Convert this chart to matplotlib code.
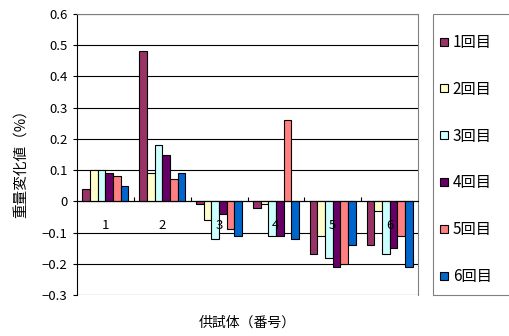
import matplotlib
matplotlib.use("Agg")
import matplotlib.pyplot as plt
from matplotlib.patches import Rectangle
from matplotlib.lines import Line2D
import numpy as np

plt.rcParams['font.family'] = ['Noto Sans CJK JP', 'DejaVu Sans']
plt.rcParams['axes.unicode_minus'] = True

categories = ["1", "2", "3", "4", "5", "6"]
series_names = ["1回目", "2回目", "3回目", "4回目", "5回目", "6回目"]
run1 = [0.04, 0.48, -0.01, -0.02, -0.17, -0.14]
run2 = [0.10, 0.09, -0.06, -0.01, -0.11, -0.03]
run3 = [0.10, 0.18, -0.12, -0.11, -0.18, -0.17]
run4 = [0.09, 0.15, -0.04, -0.11, -0.21, -0.15]
run5 = [0.08, 0.07, -0.09, 0.26, -0.20, -0.11]
run6 = [0.05, 0.09, -0.11, -0.12, -0.14, -0.21]
series = [run1, run2, run3, run4, run5, run6]
colors = ["#993366", "#FFFFCC", "#CCFFFF", "#660066", "#FF8080", "#0066CC"]
yticks = [-0.3, -0.2, -0.1, 0, 0.1, 0.2, 0.3, 0.4, 0.5, 0.6]
ytick_labels = ["-0.3", "-0.2", "-0.1", "0", "0.1", "0.2", "0.3", "0.4", "0.5", "0.6"]

W, H = 509, 336
fig = plt.figure(figsize=(W / 100, H / 100), dpi=100)
ax = fig.add_axes([77 / W, 1 - 295 / H, (418 - 77) / W, (295 - 14) / H])

x = np.arange(len(categories))
w = 1 / 7.4
for j, (vals, c, name) in enumerate(zip(series, colors, series_names)):
    ax.bar(x + (j - 2.5) * w, vals, width=w, color=c, edgecolor="black",
           linewidth=0.8, label=name, zorder=3)

ax.set_xlim(-0.5, len(categories) - 0.5)
ax.set_ylim(-0.3, 0.6)
ax.set_yticks(yticks)
ax.set_yticklabels([s.replace("-", "\u2212") for s in ytick_labels], fontsize=9.5)
for yv in yticks:
    ax.axhline(yv, color="black", linewidth=0.8, zorder=1)

ax.spines['top'].set_color("#808080")
ax.spines['right'].set_color("#808080")
ax.spines['left'].set_color("black")
ax.spines['bottom'].set_position(('data', 0))
ax.spines['bottom'].set_color("black")
ax.spines['bottom'].set_zorder(4)
ax.tick_params(axis='y', direction='out', length=3, width=0.8, pad=4)
ax.set_xticks(x)
ax.set_xticklabels(categories, fontsize=9.5)
ax.tick_params(axis='x', which='major', length=0, pad=13)
ax.set_xticks(np.arange(0.5, len(categories) - 0.5, 1), minor=True)
ax.tick_params(axis='x', which='minor', direction='in', length=3, width=0.8)
ax.xaxis.set_zorder(5)

fig.text(247 / W, 1 - 323 / H, "供試体（番号）", ha="center", va="center", fontsize=10)
fig.text(22 / W, 1 - 160 / H, "重量変化値（%）", ha="center", va="center",
         rotation=90, fontsize=10.5)

# legend frame (extends past the right edge like the original)
fig.patches.append(Rectangle((433 / W, 1 - 295 / H), 100 / W, (295 - 14) / H,
                             transform=fig.transFigure, fill=False,
                             edgecolor="#808080", linewidth=0.8))
proxies = [Line2D([], [], linestyle="none", marker="s", markersize=5.5,
                  markerfacecolor=c, markeredgecolor="black", markeredgewidth=0.8)
           for c in colors]
leg = fig.legend(handles=proxies, labels=series_names, loc="upper left",
                 bbox_to_anchor=(439 / W, 1 - 34 / H),
                 bbox_transform=fig.transFigure,
                 fontsize=11, frameon=False,
                 handlelength=0.6, handletextpad=0.3,
                 labelspacing=1.95, borderpad=0, borderaxespad=0)

fig.savefig("out.png", dpi=100)
